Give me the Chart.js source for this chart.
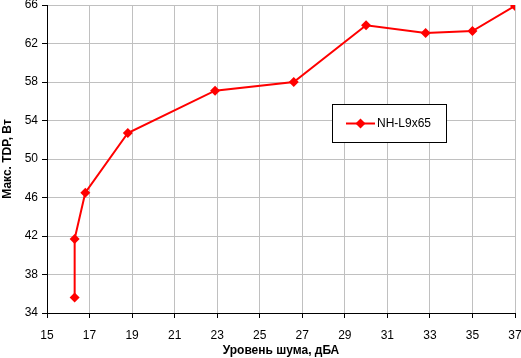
<!DOCTYPE html>
<html>
<head>
<meta charset="utf-8">
<script src="https://cdn.jsdelivr.net/npm/chart.js@4"></script>
<style>
  html, body { margin: 0; padding: 0; background: #fff; }
  #wrap { width: 521px; height: 358px; }
</style>
</head>
<body>
<div id="wrap"><canvas id="chart_tdp"></canvas></div>
<script>
// values
let noise_dBA = [16.3, 16.3, 16.8, 18.8, 22.9, 26.6, 30.0, 32.8, 35.0, 37.0];
let tdp_W = [35.6, 41.7, 46.5, 52.7, 57.1, 58.0, 63.9, 63.1, 63.3, 65.9];
let seriesName = "NH-L9x65";
let xTitle = "Уровень шума, дБА";
let yTitle = "Макс. TDP, Вт";

let points = noise_dBA.map((x, i) => ({ x: x, y: tdp_W[i] }));

// legend box drawn inside the plot like the original
const boxLegend = {
    id: "boxLegend",
    afterDraw(chart) {
        const ctx = chart.ctx;
        const a = chart.chartArea;
        const left = Math.round(a.left + (a.right - a.left) * 0.608);
        const top = Math.round(a.top + (a.bottom - a.top) * 0.32);
        const w = 114, h = 38;
        ctx.save();
        ctx.fillStyle = "#fff";
        ctx.fillRect(left, top, w, h);
        ctx.strokeStyle = "#000";
        ctx.lineWidth = 1;
        ctx.strokeRect(left + 0.5, top + 0.5, w, h);
        const cy = top + h / 2 + 0.5;
        ctx.strokeStyle = "red";
        ctx.lineWidth = 2;
        ctx.beginPath();
        ctx.moveTo(left + 14, cy);
        ctx.lineTo(left + 43, cy);
        ctx.stroke();
        ctx.fillStyle = "red";
        ctx.beginPath();
        const mx = left + 28.5, r = 5;
        ctx.moveTo(mx, cy - r);
        ctx.lineTo(mx + r, cy);
        ctx.lineTo(mx, cy + r);
        ctx.lineTo(mx - r, cy);
        ctx.closePath();
        ctx.fill();
        ctx.fillStyle = "#000";
        ctx.font = "12px 'Liberation Sans', Arial, sans-serif";
        ctx.textBaseline = "middle";
        ctx.fillText(seriesName, left + 45, cy);
        ctx.restore();
    }
};

new Chart(document.getElementById("chart_tdp"), {
    type: "line",
    data: {
        datasets: [{
            label: seriesName,
            data: points,
            borderColor: "red",
            backgroundColor: "red",
            borderWidth: 2,
            pointStyle: "rectRot",
            pointRadius: 5,
            pointBorderWidth: 0,
            tension: 0,
        }]
    },
    options: {
        responsive: true,
        maintainAspectRatio: false,
        animation: false,
        layout: { padding: { top: 5, right: 6, left: 0, bottom: 0 } },
        plugins: {
            legend: { display: false },
            tooltip: { enabled: false },
        },
        scales: {
            x: {
                type: "linear",
                min: 15,
                max: 37,
                ticks: {
                    stepSize: 2,
                    color: "#000",
                    font: { family: "'Liberation Sans', Arial", size: 12 },
                    padding: 10,
                },
                grid: { color: "#c0c0c0", tickColor: "#000", tickLength: 5 },
                border: { color: "#000", width: 1 },
                title: {
                    display: true,
                    text: xTitle,
                    color: "#000",
                    font: { family: "'Liberation Sans', Arial", size: 12, weight: "bold" },
                    padding: { top: 0, bottom: 0 },
                },
                afterFit(scale) {
                    scale.height = 45;
                    scale.paddingLeft = 0;
                    scale.paddingRight = 0;
                },
            },
            y: {
                min: 34,
                max: 66,
                ticks: {
                    stepSize: 4,
                    color: "#000",
                    font: { family: "'Liberation Sans', Arial", size: 12 },
                    padding: 4,
                },
                grid: { color: "#c0c0c0", tickColor: "#000", tickLength: 5 },
                border: { color: "#000", width: 1 },
                title: {
                    display: true,
                    text: yTitle,
                    color: "#000",
                    font: { family: "'Liberation Sans', Arial", size: 12, weight: "bold" },
                    padding: { top: 0, bottom: 0 },
                },
                afterFit(scale) {
                    scale.width = 47;
                    scale.paddingTop = 0;
                    scale.paddingBottom = 0;
                },
            }
        }
    },
    plugins: [boxLegend]
});
</script>
</body>
</html>
